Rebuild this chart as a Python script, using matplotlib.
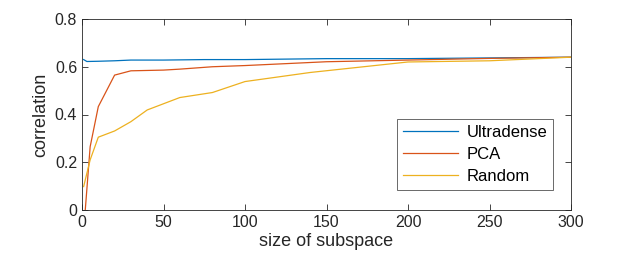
import matplotlib
matplotlib.use("Agg")
import matplotlib.pyplot as plt

plt.rcParams['font.family'] = ['Liberation Sans', 'DejaVu Sans']

x_ultra = [1, 3, 10, 20, 30, 50, 75, 100, 150, 200, 250, 300]
y_ultra = [0.630, 0.622, 0.623, 0.625, 0.628, 0.628, 0.630, 0.630, 0.634, 0.634, 0.637, 0.640]

x_pca = [2, 5, 10, 20, 30, 50, 60, 80, 100, 150, 200, 250, 300]
y_pca = [0.0, 0.265, 0.433, 0.565, 0.583, 0.586, 0.590, 0.600, 0.605, 0.621, 0.628, 0.635, 0.640]

x_rand = [1, 5, 10, 20, 30, 40, 60, 80, 100, 140, 200, 250, 300]
y_rand = [0.098, 0.21, 0.305, 0.331, 0.37, 0.419, 0.471, 0.492, 0.538, 0.576, 0.620, 0.625, 0.640]

labels = ['Ultradense', 'PCA', 'Random']
xticks = [0, 50, 100, 150, 200, 250, 300]
yticks = [0, 0.2, 0.4, 0.6, 0.8]
yticklabels = ['0', '0.2', '0.4', '0.6', '0.8']

fig = plt.figure(figsize=(6.3, 2.63), dpi=100)
ax = fig.add_axes([82/630, 1 - 210/263, (571 - 82)/630, (210 - 19)/263])

ax.plot(x_ultra, y_ultra, color=(0, 0.447, 0.741), lw=0.9, label=labels[0])
ax.plot(x_pca, y_pca, color=(0.85, 0.325, 0.098), lw=0.9, label=labels[1])
ax.plot(x_rand, y_rand, color=(0.929, 0.694, 0.125), lw=0.9, label=labels[2])

ax.set_xlim(0, 300)
ax.set_ylim(0, 0.8)
ax.set_xticks(xticks)
ax.set_yticks(yticks)
ax.set_yticklabels(yticklabels)
ax.tick_params(direction='in', top=True, right=True, labelsize=11.5, colors=(0.15, 0.15, 0.15), length=4, width=0.6)
for s in ax.spines.values():
    s.set_color((0.15, 0.15, 0.15))
    s.set_linewidth(0.6)
ax.set_xlabel('size of subspace', fontsize=13, color=(0.15, 0.15, 0.15), labelpad=2)
ax.set_ylabel('correlation', fontsize=13, color=(0.15, 0.15, 0.15), labelpad=4)

leg = ax.legend(loc='lower right', fontsize=12, frameon=True, fancybox=False,
                edgecolor=(0.15, 0.15, 0.15),
                handlelength=3.3, borderpad=0.35, labelspacing=0.42, handletextpad=0.5,
                borderaxespad=0)
leg.get_frame().set_linewidth(0.6)
leg.set_bbox_to_anchor((553/630, 1 - 190/263), transform=fig.transFigure)

fig.savefig('out.png', dpi=100)
